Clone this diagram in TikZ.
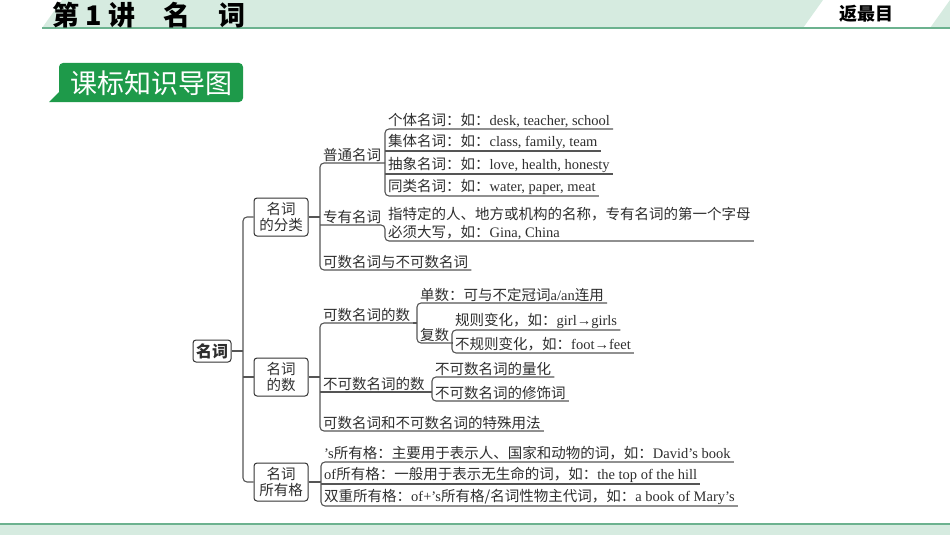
\documentclass[tikz,border=0pt]{standalone}
\usepackage{fontspec}
\setmainfont{Noto Sans CJK SC}
\newfontfamily\latfont{Liberation Serif}
\newcommand{\eng}[1]{{\latfont\fontsize{14.5}{18}\selectfont #1}}
\usetikzlibrary{positioning,calc}
\definecolor{bandgreen}{HTML}{D6EBE0}
\definecolor{rulegreen}{HTML}{6CB28F}
\definecolor{badgegreen}{HTML}{1E9A4A}
\definecolor{lncol}{HTML}{555555}
\definecolor{boxcol}{HTML}{333333}
\definecolor{txtcol}{HTML}{2E2E2E}
\tikzset{
    ln/.style={draw=lncol, line width=1.1pt},
    item/.style={anchor=south west, inner xsep=3pt, inner ysep=1.5pt, text=txtcol,
        align=left, font=\fontsize{14.5}{18}\selectfont},
    box/.style={draw=boxcol, line width=1pt, rounded corners=3pt, minimum width=54pt,
        minimum height=38pt, inner sep=1pt, align=center, text=txtcol,
        font=\fontsize{14.5}{16}\selectfont}
}

\begin{document}
\begin{tikzpicture}[x=1pt, y=-1pt]
\useasboundingbox (0,0) rectangle (950,535);
\fill[bandgreen] (42,28) -- (62,0) -- (823,0) -- (803,28) -- cycle;
\fill[bandgreen] (930,28) -- (950,0) -- (950,28) -- cycle;
\draw[rulegreen, line width=2pt] (42,28.5) -- (950,28.5);
\node[anchor=west, font=\bfseries\fontsize{27}{30}\selectfont] (title) at (49,15)
    {第 1 讲\hspace{28pt}名\hspace{28pt}词};
\node[font=\bfseries\fontsize{18}{20}\selectfont] (back) at (866,14) {返最目};
\fill[badgegreen] (49,102) -- (59,92) [rounded corners=4pt] -- (59,63) -- (243,63)
    -- (243,102) [sharp corners] -- cycle;
\node[text=white, font=\fontsize{27}{30}\selectfont] (badge) at (151,83) {课标知识导图};
\fill[bandgreen] (0,525) rectangle (950,535);
\draw[rulegreen, line width=2pt] (0,524) -- (950,524);

\node[box, minimum width=38pt, minimum height=22pt, font=\bfseries\fontsize{16}{18}\selectfont]
    (root) at (212,351) {名词};
\node[box] (fl) at (281,217) {名词\\的分类};
\node[box] (sh) at (281,377) {名词\\的数};
\node[box] (syg) at (281,482) {名词\\所有格};
\coordinate (spine) at (243,351);
\draw[ln] (root.east) -- (spine);
\draw[ln, rounded corners=4pt] (fl.west) -- (fl.west -| spine) -- (syg.west -| spine) -- (syg.west);
\draw[ln] (sh.west) -- (sh.west -| spine);

\node[item] (pt) at (320,163) {普通名词};
\node[item] (zy) at (320,225) {专有名词};
\node[item] (kb) at (320,270) {可数名词与不可数名词};
\node[item] (gt) at (385,129) {个体名词：如：\eng{desk, teacher, school}};
\node[item] (jt) at (385,151) {集体名词：如：\eng{class, family, team}};
\node[item] (cx) at (385,174) {抽象名词：如：\eng{love, health, honesty}};
\node[item] (tl) at (385,196) {同类名词：如：\eng{water, paper, meat}};
\node[item] (zd) at (385,241) {指特定的人、地方或机构的名称，专有名词的第一个字母\\必须大写，如：\eng{Gina, China}};
\draw[ln] (fl.east) -- (fl.east -| pt.west);
\draw[ln, rounded corners=4pt] (gt.south west |- pt.south) -- (pt.south west) -- (kb.south west) -- (kb.south east);
\draw[ln, rounded corners=4pt] (gt.south east) -- (gt.south west) -- (tl.south west) -- (tl.south east);
\draw[ln] (jt.south west) -- (jt.south east);
\draw[ln] (cx.south west) -- (cx.south east);
\draw[ln, rounded corners=4pt] (zy.south west) -- (zd.south west |- zy.south) -- (zd.south west) -- (zd.south east);

\node[item] (ks) at (320,323) {可数名词的数};
\node[item] (bks) at (320,392) {不可数名词的数};
\node[item] (ts) at (320,431) {可数名词和不可数名词的特殊用法};
\node[item] (ds) at (417,303) {单数：可与不定冠词\eng{a/an}连用};
\node[item] (fs) at (417,343) {复数};
\node[item] (gz) at (452,330) {规则变化，如：\eng{girl→girls}};
\node[item] (bg) at (452,353) {不规则变化，如：\eng{foot→feet}};
\node[item] (lh) at (432,377) {不可数名词的量化};
\node[item] (xs) at (432,401) {不可数名词的修饰词};
\draw[ln] (sh.east) -- (sh.east -| ks.west);
\draw[ln, rounded corners=4pt] (ks.south east) -- (ks.south west) -- (ts.south west) -- (ts.south east);
\draw[ln] (bks.south west) -- (lh.south west |- bks.south);
\draw[ln] (ks.south east) -- (ds.south west |- ks.south);
\draw[ln, rounded corners=4pt] (ds.south east) -- (ds.south west) -- (fs.south west) -- (fs.south east);
\draw[ln] (fs.south east) -- (gz.south west |- fs.south);
\draw[ln, rounded corners=4pt] (gz.south east) -- (gz.south west) -- (bg.south west) -- (bg.south east);
\draw[ln, rounded corners=4pt] (lh.south east) -- (lh.south west) -- (xs.south west) -- (xs.south east);

\node[item] (sg) at (321,462) {\eng{’s}所有格：主要用于表示人、国家和动物的词，如：\eng{David’s book}};
\node[item] (og) at (321,484) {\eng{of}所有格：一般用于表示无生命的词，如：\eng{the top of the hill}};
\node[item] (sc) at (321,506) {双重所有格：\eng{of+’s}所有格/名词性物主代词，如：\eng{a book of Mary’s}};
\draw[ln] (syg.east) -- (syg.east -| sg.west);
\draw[ln, rounded corners=4pt] (sg.south east) -- (sg.south west) -- (sc.south west) -- (sc.south east);
\draw[ln] (og.south west) -- (og.south east);
\end{tikzpicture}
\end{document}
